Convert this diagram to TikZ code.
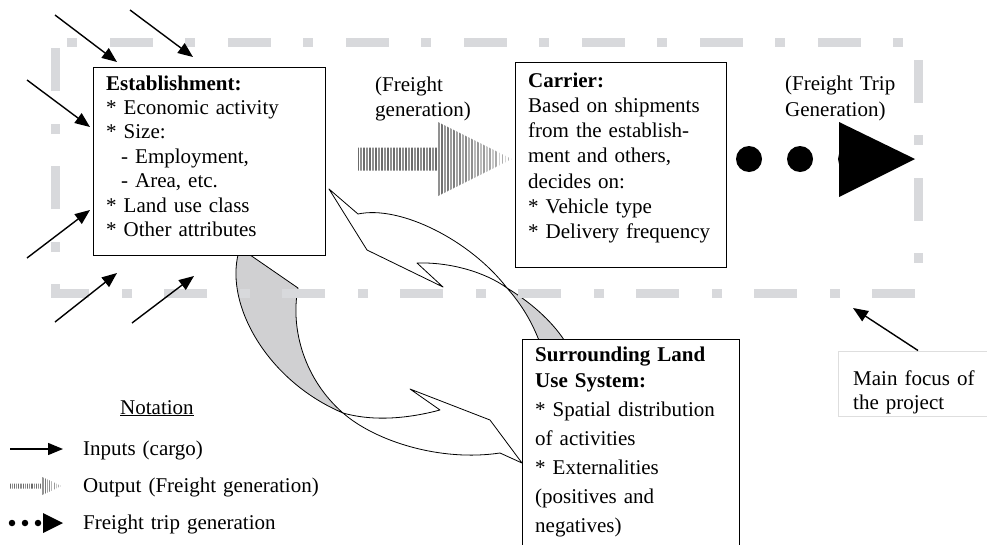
\documentclass[tikz,border=0pt]{standalone}
\usepackage{fontspec}
\setmainfont{Liberation Serif}
\usetikzlibrary{arrows.meta,fit}

\definecolor{framegray}{RGB}{216,217,220}
\definecolor{ribbongray}{RGB}{208,208,210}
\definecolor{notegray}{RGB}{222,222,222}

% Hatched "output" arrow: x start, x of head base, x of tip, y centre,
% shaft half height, head half height, stripe step
\newcommand{\stripedarrow}[7]{%
  \begin{scope}
    \clip (#1,#4-#5) -- (#2,#4-#5) -- (#2,#4-#6) -- (#3,#4) -- (#2,#4+#6)
          -- (#2,#4+#5) -- (#1,#4+#5) -- cycle;
    \pgfmathtruncatemacro{\nstripes}{(#3-#1)/#7}
    \foreach \i in {0,...,\nstripes}{%
      \pgfmathsetmacro{\stripex}{#1+\i*#7}
      \pgfmathsetmacro{\stripet}{max(0,(\stripex-#2)/(#3-#2))}
      \pgfmathtruncatemacro{\stripeshade}{58-30*\stripet-14*mod(\i,2)}
      \pgfmathsetmacro{\stripew}{(0.5-0.2*\stripet)*#7}
      \draw[line width=\stripew pt, black!\stripeshade]
        (\stripex,#4-#6-1) -- (\stripex,#4+#6+1);
    }
  \end{scope}}

\begin{document}
\begin{tikzpicture}[x=1pt,y=-1pt,
  box/.style={draw=black, line width=1pt, fill=white, inner sep=0pt},
  txt/.style={font=\fontsize{21}{24.4}\selectfont, align=left,
              inner sep=0pt, anchor=base west, text width=#1},
  txt/.default=200pt,
  inarrow/.style={line width=1.4pt, -{Triangle[length=15pt,width=12pt]}},
  ribbon/.style={draw=black, line width=0.8pt, line join=round},
  frame/.style={draw=framegray, line width=9pt,
                dash pattern=on 10pt off 33pt on 43pt off 32pt, dash phase=106pt},
  bigdot/.style={circle, fill=black, inner sep=0pt, minimum size=26pt},
  smalldot/.style={circle, fill=black, inner sep=0pt, minimum size=6.5pt}]

\useasboundingbox (0,0) rectangle (987,544);

% ---------- twisted ribbon arrows (land use feedback loop) ----------
% ribbon into the establishment
\coordinate (t1) at (329,189);
\coordinate (a0) at (358,214);
\coordinate (b0) at (417,263);
\coordinate (n1) at (443,287);
\coordinate (k1) at (367,250);
\coordinate (x1) at (507,288);
\coordinate (a1) at (540,343);
\coordinate (b1) at (566,343);
\path[ribbon, fill=white] (t1) -- (a0) .. controls (400,205) and (470,240) .. (x1)
     .. controls (485,272) and (450,262) .. (b0) -- (n1) -- (k1) -- cycle;
\path[ribbon, fill=ribbongray] (x1) .. controls (522,305) and (532,322) .. (a1)
     -- (b1) .. controls (555,325) and (535,305) .. (x1) -- cycle;

% ribbon into the surrounding land use system
\coordinate (c0) at (240,248);
\coordinate (d0) at (298,288);
\coordinate (x2) at (343,413);
\coordinate (n2) at (440,410);
\coordinate (k2) at (410,389);
\coordinate (l2) at (490,420);
\coordinate (t2) at (522,463);
\coordinate (d1) at (500,453);
\path[ribbon, fill=ribbongray] (c0) .. controls (222,300) and (265,380) .. (x2)
     .. controls (305,380) and (290,330) .. (d0) -- cycle;
\path[ribbon, fill=white] (x2) .. controls (375,422) and (410,418) .. (n2)
     -- (k2) -- (l2) -- (t2) -- (d1) .. controls (440,462) and (375,441) .. (x2) -- cycle;

% ---------- focus frame ----------
\draw[frame] (55,42) -- (918,42) -- (918,293) -- (55,293) -- cycle;

% ---------- boxes ----------
\node[box, fit={(93,67) (325,255)}] (est) {};
\node[box, fit={(515,62) (726,267)}] (car) {};
\node[box, fit={(522,339) (739,560)}] (sur) {};
\node[box, draw=notegray, fit={(838,351) (995,416)}] (focus) {};

\node[txt=215pt] (esttext) at (106,90) {\textbf{Establishment:}\\
{*} Economic activity\\
{*} Size:\\
\hspace*{15pt}- Employment,\\
\hspace*{15pt}- Area, etc.\\
{*} Land use class\\
{*} Other attributes};

\node[txt=198pt, font=\fontsize{21}{25.3}\selectfont] (cartext) at (528,87) {\textbf{Carrier:}\\
Based on shipments\\
from the establish-\\
ment and others,\\
decides on:\\
{*} Vehicle type\\
{*} Delivery frequency};

\node[txt=200pt, font=\fontsize{21}{29}\selectfont] (surtext) at (535,361) {\textbf{Surrounding Land}\\[-3pt]
\textbf{Use System:}\\
{*} Spatial distribution\\
of activities\\
{*} Externalities\\
(positives and\\
negatives)};

\node[txt=130pt] (focustext) at (853,385) {Main focus of\\the project};

% ---------- flow between establishment and carrier ----------
\node[txt=120pt, font=\fontsize{21}{25}\selectfont] (fglabel) at (375,91) {(Freight\\generation)};
\stripedarrow{358}{437}{512}{159}{11.5}{37.5}{3}

\node[txt=140pt, font=\fontsize{21}{26}\selectfont] (ftglabel) at (785,90) {(Freight Trip\\Generation)};
\node[bigdot] (dot3) at (851,159) {};
\node[bigdot] (dot1) at (749,159) {};
\node[bigdot] (dot2) at (800,159) {};
\coordinate (tri1) at (839,122);
\coordinate (tri2) at (839,197);
\coordinate (tri3) at (915,159);
\fill (tri1) -- (tri2) -- (tri3) -- cycle;

% ---------- inputs (cargo) ----------
\coordinate (i1) at (55,15);   \coordinate (j1) at (117,62);
\coordinate (i2) at (130,10);  \coordinate (j2) at (193,57);
\coordinate (i3) at (27,80);   \coordinate (j3) at (90,127);
\coordinate (i4) at (27,258);  \coordinate (j4) at (90,210);
\coordinate (i5) at (55,322);  \coordinate (j5) at (117,273);
\coordinate (i6) at (132,323); \coordinate (j6) at (194,276);
\foreach \k in {1,...,6} \draw[inarrow] (i\k) -- (j\k);

% ---------- pointer to the focus note ----------
\coordinate (fp) at (853,308);
\draw[inarrow] (focus.north west -| 918,351) -- (fp);

% ---------- notation ----------
\node[txt=120pt] (notation) at (120,414) {\underline{Notation}};

\coordinate (la) at (10,449);
\coordinate (lb) at (63,449);
\draw[inarrow] (la) -- (lb);
\node[txt=300pt] (leg1) at (83,455) {Inputs (cargo)};

\stripedarrow{10}{42}{62}{486}{2.5}{9}{2.2}
\node[txt=300pt] (leg2) at (83,492) {Output (Freight generation)};

\node[smalldot] (ld1) at (12,523) {};
\node[smalldot] (ld2) at (25,523) {};
\node[smalldot] (ld3) at (38,523) {};
\coordinate (lt1) at (43,513);
\coordinate (lt2) at (43,533);
\coordinate (lt3) at (63,523);
\fill (lt1) -- (lt2) -- (lt3) -- cycle;
\node[txt=300pt] (leg3) at (83,529) {Freight trip generation};

\end{tikzpicture}
\end{document}
